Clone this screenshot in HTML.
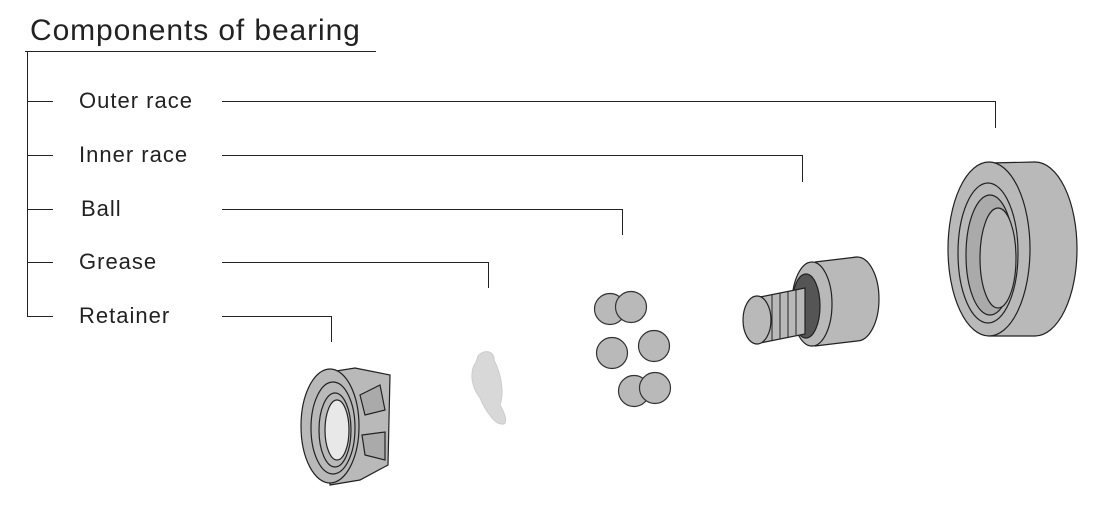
<!DOCTYPE html>
<html><head><style>
html,body{margin:0;padding:0;background:#fff;}
svg{display:block;}
text{font-family:"Liberation Sans",Arial,sans-serif;fill:#222;}
</style></head><body>
<svg width="1104" height="507" viewBox="0 0 1104 507" xmlns="http://www.w3.org/2000/svg">
<text x="30" y="40" font-size="30" letter-spacing="0.9">Components of bearing</text>
<g stroke="#222" stroke-width="1" fill="none">
<line x1="25" y1="51.5" x2="376" y2="51.5"/>
<line x1="27.5" y1="51" x2="27.5" y2="316"/>
<line x1="27" y1="101.5" x2="53" y2="101.5"/>
<line x1="27" y1="155.5" x2="53" y2="155.5"/>
<line x1="27" y1="209.5" x2="53" y2="209.5"/>
<line x1="27" y1="262.5" x2="53" y2="262.5"/>
<line x1="27" y1="316.5" x2="53" y2="316.5"/>
<polyline points="222,101.5 995.5,101.5 995.5,128"/>
<polyline points="222,155.5 802.5,155.5 802.5,182"/>
<polyline points="222,209.5 622.5,209.5 622.5,235"/>
<polyline points="222,262.5 488.5,262.5 488.5,288"/>
<polyline points="222,316.5 331.5,316.5 331.5,342"/>
</g>
<g font-size="22" letter-spacing="1">
<text x="79" y="108">Outer race</text>
<text x="79" y="162">Inner race</text>
<text x="81" y="216">Ball</text>
<text x="79" y="269">Grease</text>
<text x="79" y="323">Retainer</text>
</g>
<!-- balls -->
<g fill="#b9b9b9" stroke="#333" stroke-width="1.2">
<circle cx="610" cy="309" r="15.5"/><circle cx="631" cy="307" r="15.5"/>
<circle cx="612" cy="353" r="15.5"/><circle cx="654" cy="346" r="15.5"/>
<circle cx="634" cy="391" r="15.5"/><circle cx="655" cy="388" r="15.5"/>
</g>
<!-- grease -->
<path d="M478,356 C485,348 495,352 494,360 C500,372 505,390 500,405 C506,415 508,425 502,424 C495,425 485,410 480,398 C470,385 470,370 476,362 Z" fill="#d8d8d8" stroke="#ccc"/>
<!-- outer race -->
<g stroke="#222" stroke-width="1.2" fill="#b9b9b9">
<ellipse cx="1035" cy="249" rx="42" ry="87"/>
<path d="M989,163 L1035,162 L1035,336 L989,336 Z" stroke="none"/>
<line x1="989" y1="163" x2="1035" y2="162"/>
<line x1="989" y1="336" x2="1035" y2="336"/>
<ellipse cx="989" cy="249" rx="41" ry="87"/>
<ellipse cx="988" cy="253" rx="30" ry="70"/>
<ellipse cx="990" cy="255" rx="24" ry="60" fill="#aaa"/>
<ellipse cx="998" cy="258" rx="18" ry="50" fill="#b9b9b9"/>
</g>
<!-- inner race -->
<g stroke="#222" stroke-width="1.2" fill="#b9b9b9">
<ellipse cx="857" cy="299" rx="22" ry="42"/>
<path d="M815,262 L857,257 L857,341 L815,346 Z" stroke="none"/>
<line x1="815" y1="262" x2="857" y2="257"/>
<line x1="815" y1="346" x2="857" y2="341"/>
<ellipse cx="812" cy="304" rx="20" ry="42"/>
<ellipse cx="806" cy="306" rx="14" ry="32" fill="#555"/>
<path d="M760,297 L805,288 L805,334 L760,343 Z"/>
<g stroke-width="1"><line x1="772" y1="295" x2="772" y2="341"/><line x1="780" y1="293" x2="780" y2="339"/><line x1="788" y1="291" x2="788" y2="337"/><line x1="796" y1="289" x2="796" y2="335"/></g>
<ellipse cx="757" cy="320" rx="14" ry="24"/>
</g>
<!-- retainer -->
<g stroke="#222" stroke-width="1.2" fill="#b9b9b9">
<path d="M330,372 L355,368 L390,375 L388,465 L360,480 L330,485 Z"/>
<path d="M360,395 L380,385 L385,410 L365,415 Z" fill="#aaa"/>
<path d="M362,435 L385,432 L385,460 L365,455 Z" fill="#aaa"/>
<ellipse cx="330" cy="426" rx="29" ry="57"/>
<ellipse cx="333" cy="428" rx="22" ry="46"/>
<ellipse cx="335" cy="430" rx="16" ry="37"/>
<ellipse cx="337" cy="430" rx="12" ry="30" fill="#e8e8e8"/>
</g>
</svg>
</body></html>
